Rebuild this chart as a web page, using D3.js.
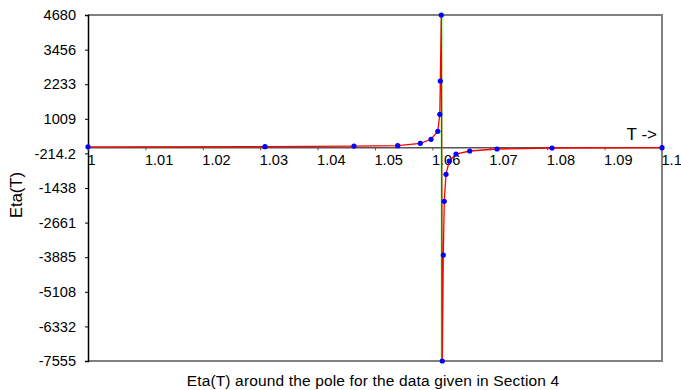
<!DOCTYPE html>
<html>
<head>
<meta charset="utf-8">
<script src="https://cdn.jsdelivr.net/npm/d3@7"></script>
<style>
  body { margin: 0; background: #fff; }
  svg text { font-family: "Liberation Sans", Arial, sans-serif; }
</style>
</head>
<body>
<div class="svg_container"></div>
<script>
const WIDTH = 681;
const HEIGHT = 390;
const LEFT = 88, RIGHT = 662, TOP = 15, BOTTOM = 361;

// data
var tValues = [1.0, 1.03084, 1.04634, 1.05395, 1.05789, 1.05976, 1.06094, 1.06129, 1.06138, 1.06155,
               1.06172, 1.0619, 1.06207, 1.06237, 1.06294, 1.06411, 1.0665, 1.07125, 1.08084, 1.1];
var etaValues = [20, 25, 45, 58, 143, 285, 568, 1169, 2346, 4680,
                 -7555, -3806, -1908, -953, -483, -235, -129, -58, -23, -12];
var poleT = [1.0616];
var xTicks = [1, 1.01, 1.02, 1.03, 1.04, 1.05, 1.06, 1.07, 1.08, 1.09, 1.1];
var yTicks = [4680, 3456, 2233, 1009, -214.2, -1438, -2661, -3885, -5108, -6332, -7555];

var translate = function (x, y) {
  return "translate(" + x + "," + y + ")";
};

var xScale = d3.scaleLinear().domain([1, 1.1]).range([LEFT, RIGHT]);
var yScale = d3.scaleLinear().domain([-7555, 4680]).range([BOTTOM, TOP]);

var svg = d3.select('.svg_container').append('svg')
  .attr('width', WIDTH)
  .attr('height', HEIGHT);

// frame
svg.append('path')
  .attr('d', 'M' + LEFT + ',' + TOP + 'H' + RIGHT + 'V' + BOTTOM + 'H' + LEFT)
  .attr('fill', 'none')
  .attr('stroke', '#808080')
  .attr('stroke-width', 2);

// y axis
var yAxis = svg.append('g')
  .attr('transform', translate(LEFT, 0))
  .call(d3.axisLeft(yScale).tickValues(yTicks).tickSize(3).tickPadding(9)
    .tickFormat(function (d) { return String(d); }));
yAxis.select('.domain').attr('stroke', '#000').attr('stroke-width', 1.5);
yAxis.selectAll('text').attr('font-size', 14.6).attr('fill', '#000');

// x axis at zero
var xAxis = svg.append('g')
  .attr('transform', translate(0, yScale(0)))
  .call(d3.axisBottom(xScale).tickValues(xTicks).tickSize(3).tickPadding(4)
    .tickFormat(function (d) { return String(d); }));
xAxis.select('.domain').attr('stroke', '#555').attr('stroke-width', 1.5);
xAxis.selectAll('.tick line').attr('stroke', '#555');
xAxis.selectAll('text').attr('font-size', 14.6).attr('fill', '#000')
  .attr('text-anchor', 'start').attr('dx', -1);

// pole line
svg.selectAll('.pole').data(poleT).enter().append('line')
  .attr('x1', function (d) { return xScale(d); })
  .attr('x2', function (d) { return xScale(d); })
  .attr('y1', yScale(4680))
  .attr('y2', yScale(-7555))
  .attr('stroke', '#00ff00')
  .attr('stroke-width', 1.5);

var line = d3.line()
  .x(function (d, i) { return xScale(tValues[i]); })
  .y(function (d) { return yScale(d); });

svg.append('path')
  .attr('d', line(etaValues))
  .attr('fill', 'none')
  .attr('stroke', '#ff0000')
  .attr('stroke-width', 1.3);

svg.selectAll('.dot').data(etaValues).enter().append('circle')
  .attr('cx', function (d, i) { return xScale(tValues[i]); })
  .attr('cy', function (d) { return yScale(d); })
  .attr('r', 2.6)
  .attr('fill', '#0000ff');

// labels
svg.append('text')
  .attr('x', 657).attr('y', 140)
  .attr('text-anchor', 'end')
  .attr('font-size', 17)
  .text('T ->');

svg.append('text')
  .attr('transform', translate(22, 195) + ' rotate(-90)')
  .attr('text-anchor', 'middle')
  .attr('font-size', 16.5)
  .text('Eta(T)');

svg.append('text')
  .attr('x', 373).attr('y', 386)
  .attr('text-anchor', 'middle')
  .attr('font-size', 15.5)
  .attr('letter-spacing', 0.15)
  .text('Eta(T) around the pole for the data given in Section 4');
</script>
</body>
</html>
